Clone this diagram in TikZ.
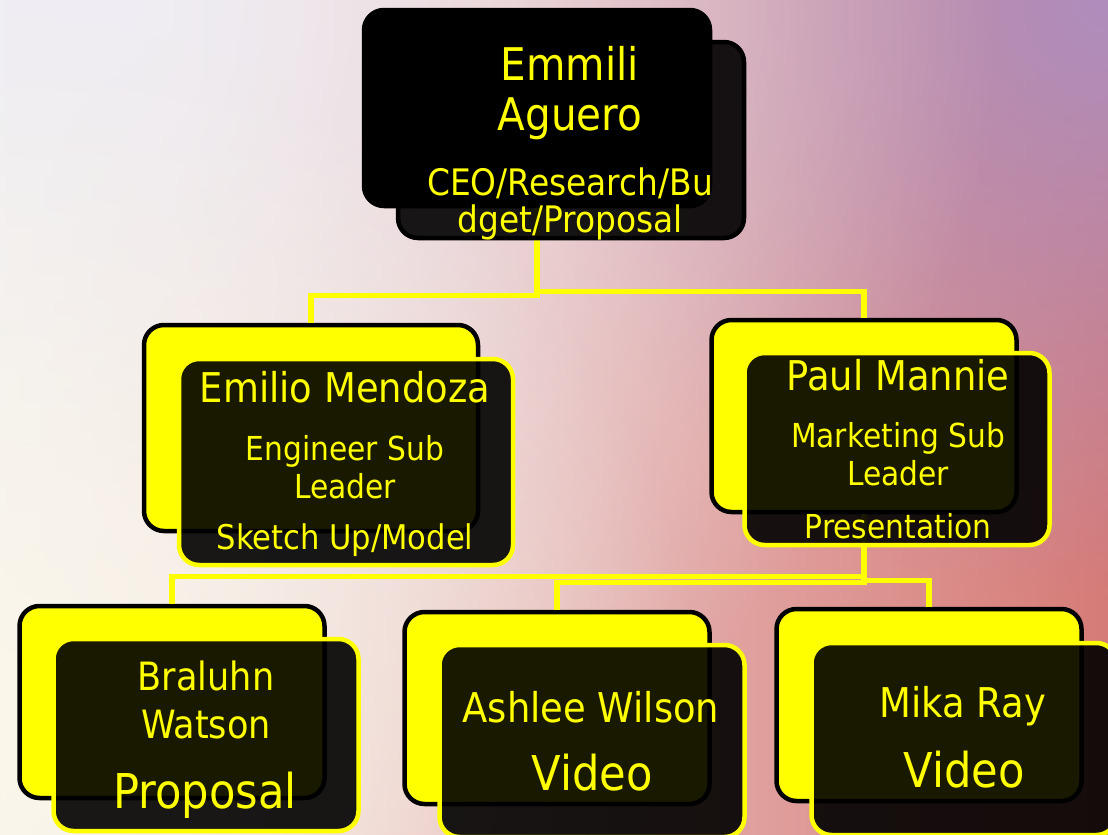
\documentclass[tikz,border=0pt]{standalone}
\usepackage{fontspec}
\setmainfont{DejaVu Sans}[FakeStretch=0.9]
\usetikzlibrary{arrows.meta,fadings}

\definecolor{skyleft}{HTML}{F4EEEE}
\definecolor{skymid}{HTML}{E8C0C2}
\definecolor{skyright}{HTML}{D67B77}
\definecolor{skypurple}{HTML}{AE8EBE}
\definecolor{skycream}{HTML}{FBF7EA}
\definecolor{skywhite}{HTML}{EFEEF4}
\definecolor{cardyellow}{HTML}{FFFF00}

\tikzfading[name=glow,inner color=transparent!0,outer color=transparent!100]

\begin{document}
\begin{tikzpicture}[x=1pt,y=-1pt,
  backcard/.style={draw=black,fill=cardyellow,line width=4.5pt,rounded corners=20pt,
    minimum width=305pt,minimum height=192pt,inner sep=0pt},
  frontcard/.style={draw=cardyellow,fill=black,fill opacity=0.9,line width=4.5pt,rounded corners=20pt,
    minimum width=305pt,minimum height=192pt,inner sep=0pt},
  topcard/.style={backcard,fill=black,minimum width=346pt,minimum height=196pt},
  topfront/.style={frontcard,draw=black,minimum width=346pt,minimum height=196pt},
  cardtext/.style={text=cardyellow,inner sep=0pt,anchor=base,align=center},
  link/.style={draw=cardyellow,line width=5.5pt}]

\useasboundingbox (0,0) rectangle (1108,835);
\clip (0,0) rectangle (1108,835);

%sky
\shade[left color=skyleft,middle color=skymid,right color=skyright] (0,0) rectangle (1108,835);
\fill[skypurple,path fading=glow] (1108,0) circle (600);
\fill[skywhite,path fading=glow] (100,0) circle (900);
\fill[skycream,path fading=glow] (0,720) circle (700);

%cards behind
\node[topcard] (ceoback) at (537,108) {};
\node[backcard,minimum width=334pt,minimum height=206pt] (emilioback) at (311,428) {};
\node[backcard] (paulback) at (864,416) {};
\node[backcard] (braluhnback) at (172,702) {};
\node[backcard] (ashleeback) at (557,708) {};
\node[backcard] (mikaback) at (929,705) {};

%links
\draw[link] (ceoback.south) -- ++(0,87) -| (emilioback.north);
\draw[link] (ceoback.south) -- ++(0,83) -| (paulback.north);
\draw[link] (paulback.south) -- ++(0,62) -| (braluhnback.north);
\draw[link] (paulback.south) -- ++(0,68) -| (ashleeback.north);
\draw[link] (paulback.south) -- ++(0,66) -| (mikaback.north);

%cards in front
\node[topfront] (ceo) at (571,140) {};
\node[frontcard,minimum width=334pt,minimum height=206pt] (emilio) at (346,462) {};
\node[frontcard] (paul) at (897,449) {};
\node[frontcard] (braluhn) at (206,735) {};
\node[frontcard] (ashlee) at (592,741) {};
\node[frontcard] (mika) at (964,739) {};

%texts
\node[cardtext,font=\fontsize{45}{50}\selectfont] (ceoname) at (570,130) {Emmili\\Aguero};
\node[cardtext,font=\fontsize{36.5}{37}\selectfont] (ceorole) at (570,232) {CEO/Research/Bu\\dget/Proposal};

\node[cardtext,font=\fontsize{41}{48}\selectfont] (emilioname) at (345,402) {Emilio Mendoza};
\node[cardtext,font=\fontsize{33}{38}\selectfont] (emiliorole) at (345,498) {Engineer Sub\\Leader};
\node[cardtext,font=\fontsize{34}{40}\selectfont] (emiliotask) at (345,549) {Sketch Up/Model};

\node[cardtext,font=\fontsize{41}{48}\selectfont] (paulname) at (898,390) {Paul Mannie};
\node[cardtext,font=\fontsize{33}{38}\selectfont] (paulrole) at (898,485) {Marketing Sub\\Leader};
\node[cardtext,font=\fontsize{33}{40}\selectfont] (paultask) at (898,538) {Presentation};

\node[cardtext,font=\fontsize{39}{48}\selectfont] (braluhnname) at (206,738) {Braluhn\\Watson};
\node[cardtext,font=\fontsize{48}{56}\selectfont] (braluhntask) at (205,808) {Proposal};

\node[cardtext,font=\fontsize{41}{48}\selectfont] (ashleename) at (591,722) {Ashlee Wilson};
\node[cardtext,font=\fontsize{48}{56}\selectfont] (ashleetask) at (592,790) {Video};

\node[cardtext,font=\fontsize{41}{48}\selectfont] (mikaname) at (963,717) {Mika Ray};
\node[cardtext,font=\fontsize{48}{56}\selectfont] (mikatask) at (964,787) {Video};
\end{tikzpicture}
\end{document}
